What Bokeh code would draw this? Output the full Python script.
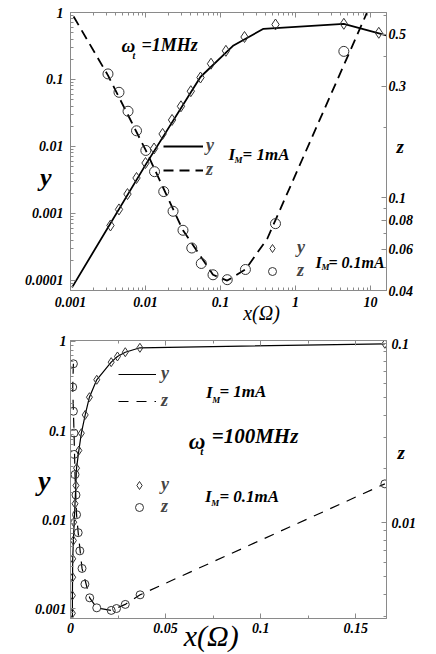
from bokeh.plotting import figure
from bokeh.models import (LogAxis, LinearAxis, Range1d, FixedTicker, CustomJSTickFormatter,
                          Legend, LegendItem, LogScale, Label)
from bokeh.layouts import column
from bokeh.embed import file_html
from bokeh.resources import INLINE

# ---------------- data: upper panel (omega_t = 1 MHz) ----------------
# lines: I_M = 1 mA
top_line_yx = [0.00105, 0.0102, 0.054, 0.149, 0.374, 4.4, 16.3]
top_line_y = [7.9e-5, 0.0055, 0.109, 0.322, 0.571, 0.678, 0.454]
top_line_zx = [0.0011, 0.00316, 0.0101, 0.0316, 0.0794, 0.123, 0.215, 0.42, 9.03]
top_line_z = [0.595, 0.333, 0.159, 0.0724, 0.0467, 0.0441, 0.0492, 0.0666, 0.621]
# markers: I_M = 0.1 mA
top_pts_yx = [0.00341, 0.00443, 0.00575, 0.00759, 0.0100, 0.0130, 0.0169, 0.0226, 0.0297,
              0.0402, 0.0541, 0.0747, 0.118, 0.209, 0.541, 4.41, 12.9]
top_pts_y = [0.000662, 0.00115, 0.00195, 0.00339, 0.00567, 0.00933, 0.0154, 0.0249, 0.0398,
             0.0669, 0.107, 0.172, 0.268, 0.431, 0.662, 0.678, 0.498]
top_pts_zx = [0.00316, 0.00443, 0.00585, 0.00759, 0.0101, 0.0132, 0.0175, 0.0233, 0.0316,
              0.0414, 0.0554, 0.0794, 0.123, 0.215, 0.541, 4.41]
top_pts_z = [0.338, 0.282, 0.234, 0.193, 0.159, 0.129, 0.106, 0.0873, 0.0724,
             0.0608, 0.0522, 0.0467, 0.0445, 0.0492, 0.0773, 0.422]
top_xticks = [0.001, 0.01, 0.1, 1, 10]
top_yticks = [0.0001, 0.001, 0.01, 0.1, 1]
top_zticks = [0.04, 0.06, 0.08, 0.1, 0.3, 0.5]
top_zminor = [0.05, 0.07, 0.09, 0.2, 0.4, 0.6]

# ---------------- data: lower panel (omega_t = 100 MHz) ----------------
bot_line_yx = [0.00101, 0.00101, 0.00116, 0.00152, 0.00237, 0.00318, 0.00439, 0.00571, 0.00773,
               0.00995, 0.0138, 0.0214, 0.0247, 0.0288, 0.0365, 0.1653]
bot_line_y = [0.00078, 0.00141, 0.00364, 0.00584, 0.0151, 0.0379, 0.0598, 0.0935, 0.150,
              0.237, 0.372, 0.586, 0.679, 0.758, 0.850, 0.942]
bot_line_zx = [0.00152, 0.00116, 0.00152, 0.00187, 0.00237, 0.00318, 0.00404, 0.00606, 0.0101,
               0.0138, 0.0214, 0.0288, 0.0366, 0.1653]
bot_line_z = [0.0773, 0.0573, 0.0420, 0.0317, 0.0186, 0.0111, 0.00881, 0.00556, 0.00381,
              0.00335, 0.00324, 0.00350, 0.00396, 0.0165]
bot_pts_yx = [0.00101, 0.00101, 0.00116, 0.00116, 0.00152, 0.00167, 0.00237, 0.00288, 0.00318,
              0.00439, 0.00571, 0.00773, 0.00995, 0.0138, 0.0214, 0.0247, 0.0288, 0.0365, 0.1653]
bot_pts_y = [0.00089, 0.00141, 0.00226, 0.00364, 0.00584, 0.00937, 0.0151, 0.0242, 0.0379,
             0.0598, 0.0935, 0.150, 0.237, 0.372, 0.586, 0.679, 0.758, 0.850, 0.942]
bot_pts_zx = [0.00152, 0.00116, 0.00152, 0.00187, 0.00187, 0.00237, 0.00288, 0.00318, 0.00404,
              0.0049, 0.00606, 0.00758, 0.0101, 0.0138, 0.0214, 0.0242, 0.0288, 0.0366, 0.1653]
bot_pts_z = [0.0773, 0.0573, 0.0420, 0.0317, 0.0241, 0.0186, 0.0143, 0.0111, 0.00881,
             0.00697, 0.00556, 0.00454, 0.00381, 0.00335, 0.00324, 0.00332, 0.00350, 0.00396, 0.0165]
bot_xticks = [0, 0.05, 0.1, 0.15]
bot_xminor = [0.025, 0.075, 0.125]
bot_yticks = [0.001, 0.01, 0.1, 1]
bot_zticks = [0.01, 0.1]

FONT = "Liberation Serif"
GRAY = "#8a8a8a"
MK = "#333333"

fmt = CustomJSTickFormatter(code="return String(Number(tick.toPrecision(6)));")
blank = CustomJSTickFormatter(code="return '';")


def log_minor(k0, k1):
    return [m * 10.0 ** k for k in range(k0, k1 + 1) for m in range(2, 10)]


def style_axis(ax, standoff):
    ax.axis_line_color = GRAY
    ax.major_tick_line_color = GRAY
    ax.minor_tick_line_color = GRAY
    ax.major_tick_in = 5
    ax.major_tick_out = 0
    ax.minor_tick_in = 3
    ax.minor_tick_out = 0
    ax.major_label_text_font = FONT
    ax.major_label_text_font_style = "bold italic"
    ax.major_label_text_font_size = "14px"
    ax.major_label_text_color = "black"
    ax.major_label_standoff = standoff


def title_axis(p, cls, side, pos, text, size, standoff, style="bold italic", rng=None):
    kw = {"y_range_name": rng} if rng else {}
    ax = cls(ticker=FixedTicker(ticks=[pos], minor_ticks=[]),
             formatter=CustomJSTickFormatter(code="return %r;" % text), **kw)
    ax.axis_line_color = None
    ax.major_tick_line_color = None
    ax.minor_tick_line_color = None
    ax.major_tick_in = 0
    ax.major_tick_out = 0
    ax.minor_tick_in = 0
    ax.minor_tick_out = 0
    ax.major_label_standoff = standoff
    ax.major_label_text_font = FONT
    ax.major_label_text_font_style = style
    ax.major_label_text_font_size = f"{size}px"
    ax.major_label_text_color = "black"
    p.add_layout(ax, side)


def add_label(p, x, y, text, size, style="bold italic", align="left"):
    p.add_layout(Label(x=x, y=y, text=text, text_font=FONT, text_font_style=style,
                       text_font_size=f"{size}px", text_align=align,
                       text_baseline="middle", text_color="black"))


def legend(items, loc, gw, standoff, spacing):
    return Legend(items=items, location=loc, glyph_width=gw, glyph_height=20,
                  label_height=20, label_width=10, spacing=spacing, padding=0, margin=0,
                  label_standoff=standoff, background_fill_alpha=0, border_line_alpha=0,
                  label_text_font=FONT, label_text_font_style="bold italic",
                  label_text_font_size="18px")


# ======================= upper panel =======================
p1 = figure(width=436, height=326, x_axis_type="log", y_axis_type="log",
            x_range=Range1d(0.001, 16.34), y_range=Range1d(7.09e-5, 1.0),
            output_backend="svg", toolbar_location=None,
            min_border_left=70, min_border_right=50, min_border_top=12, min_border_bottom=0)
p1.extra_y_ranges = {"z": Range1d(0.04, 0.619)}
p1.extra_y_scales = {"z": LogScale()}
p1.xgrid.visible = False
p1.ygrid.visible = False
p1.outline_line_color = GRAY

p1.xaxis.ticker = FixedTicker(ticks=top_xticks, minor_ticks=log_minor(-3, 1))
p1.xaxis.formatter = fmt
style_axis(p1.xaxis[0], 6)
p1.yaxis.ticker = FixedTicker(ticks=top_yticks, minor_ticks=log_minor(-5, -1))
p1.yaxis.formatter = fmt
style_axis(p1.yaxis[0], 7)

zax1 = LogAxis(y_range_name="z", ticker=FixedTicker(ticks=top_zticks, minor_ticks=top_zminor),
               formatter=fmt)
style_axis(zax1, 2)
p1.add_layout(zax1, "right")
tax1 = LogAxis(ticker=FixedTicker(ticks=top_xticks, minor_ticks=log_minor(-3, 1)), formatter=blank)
style_axis(tax1, 0)
p1.add_layout(tax1, "above")


def tx(px):
    return 10 ** ((px - 70) / 75.0 - 3)


def ty(py):
    return 10 ** (-(py - 12) / 67.0)


def tz(py):
    return 10 ** (-1 - (py - 197) / 233.7)


title_axis(p1, LogAxis, "left", ty(177), "y", 26, -30)
title_axis(p1, LogAxis, "right", tz(146), "z", 19, -20, rng="z")
title_axis(p1, LogAxis, "below", tx(261), "x(Ω)", 20, -8, style="italic")

r1y = p1.line(top_line_yx, top_line_y, line_color="black", line_width=1.8)
r1z = p1.line(top_line_zx, top_line_z, y_range_name="z", line_color="black", line_width=1.8,
              line_dash="10 6")
s1y = p1.scatter(top_pts_yx, top_pts_y, marker="diamond", size=11, fill_alpha=0,
                 line_color=MK, line_width=1)
s1z = p1.scatter(top_pts_zx, top_pts_z, y_range_name="z", marker="circle", size=10, fill_alpha=0,
                 line_color=MK, line_width=1)

p1.add_layout(legend([LegendItem(label="y", renderers=[r1y]), LegendItem(label="z", renderers=[r1z])],
                     (93, 110), 40, 3, 3))
p1.add_layout(legend([LegendItem(label="y", renderers=[s1y]), LegendItem(label="z", renderers=[s1z])],
                     (192, 9), 20, 15, 2))

add_label(p1, tx(121), ty(45), "ω", 19)
add_label(p1, tx(132), ty(55), "t", 10)
add_label(p1, tx(141), ty(45), "=1MHz", 18)
add_label(p1, tx(228), ty(154), "I", 17)
add_label(p1, tx(234), ty(160), "M", 9)
add_label(p1, tx(242), ty(154), "= 1mA", 17)
add_label(p1, tx(315), ty(262), "I", 16)
add_label(p1, tx(321), ty(267), "M", 9)
add_label(p1, tx(328), ty(262), "= 0.1mA", 16)

# ======================= lower panel =======================
p2 = figure(width=436, height=328, y_axis_type="log",
            x_range=Range1d(0.0, 0.16616), y_range=Range1d(0.000778, 1.026),
            output_backend="svg", toolbar_location=None,
            min_border_left=62, min_border_right=45, min_border_top=14, min_border_bottom=36)
p2.extra_y_ranges = {"z": Range1d(0.00292, 0.1043)}
p2.extra_y_scales = {"z": LogScale()}
p2.xgrid.visible = False
p2.ygrid.visible = False
p2.outline_line_color = GRAY

p2.xaxis.ticker = FixedTicker(ticks=bot_xticks, minor_ticks=bot_xminor)
p2.xaxis.formatter = fmt
style_axis(p2.xaxis[0], 4)
p2.yaxis.ticker = FixedTicker(ticks=bot_yticks, minor_ticks=log_minor(-4, -1))
p2.yaxis.formatter = fmt
style_axis(p2.yaxis[0], 4)

zax2 = LogAxis(y_range_name="z", ticker=FixedTicker(ticks=bot_zticks, minor_ticks=log_minor(-3, -2)),
               formatter=fmt)
style_axis(zax2, 5)
p2.add_layout(zax2, "right")
tax2 = LinearAxis(ticker=FixedTicker(ticks=bot_xticks, minor_ticks=bot_xminor), formatter=blank)
style_axis(tax2, 0)
p2.add_layout(tax2, "above")


def bx(px):
    return (px - 62) / 1980.0


def by(py):
    return 10 ** (-(py - 341) / 89.1)


def bz(py):
    return 10 ** (-1 - (py - 343.3) / 179.0)


title_axis(p2, LogAxis, "left", by(480), "y", 28, -19)
title_axis(p2, LogAxis, "right", bz(452), "z", 19, -22, rng="z")
title_axis(p2, LinearAxis, "below", bx(208.5), "x(Ω)", 30, -17, style="italic")

r2y = p2.line(bot_line_yx, bot_line_y, line_color="black", line_width=1.2)
r2z = p2.line(bot_line_zx, bot_line_z, y_range_name="z", line_color="black", line_width=1.2,
              line_dash="10 8")
s2y = p2.scatter(bot_pts_yx, bot_pts_y, marker="diamond", size=9, fill_alpha=0,
                 line_color=MK, line_width=1)
s2z = p2.scatter(bot_pts_zx, bot_pts_z, y_range_name="z", marker="circle", size=8, fill_alpha=0,
                 line_color=MK, line_width=1)

p2.add_layout(legend([LegendItem(label="y", renderers=[r2y]), LegendItem(label="z", renderers=[r2z])],
                     (48, 207), 38, 5, 6))
p2.add_layout(legend([LegendItem(label="y", renderers=[s2y]), LegendItem(label="z", renderers=[s2z])],
                     (59, 101), 20, 12, 1))

add_label(p2, bx(185), by(441), "ω", 23)
add_label(p2, bx(197), by(451), "t", 11)
add_label(p2, bx(209), by(436), "=100MHz", 21)
add_label(p2, bx(203), by(392), "I", 17)
add_label(p2, bx(209.5), by(400), "M", 9)
add_label(p2, bx(217), by(391), "= 1mA", 17)
add_label(p2, bx(202), by(496), "I", 17)
add_label(p2, bx(208.5), by(503), "M", 9)
add_label(p2, bx(217), by(496), "= 0.1mA", 17)

layout = column(p1, p2, spacing=0)
open("out.html", "w").write(file_html(layout, INLINE))
